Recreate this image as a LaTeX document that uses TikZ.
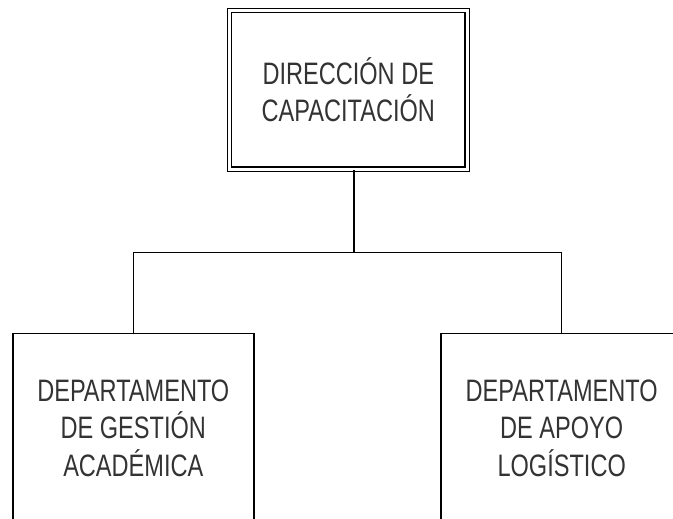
\documentclass[tikz,border=0pt]{standalone}
\usepackage{fontspec}
\setmainfont{Liberation Sans}[FakeStretch=0.76]
\begin{document}
\begin{tikzpicture}[x=1pt,y=1pt,
  box/.style={draw=black, line width=1.5pt, fill=white, align=center,
    inner sep=0pt, minimum width=241pt, text=black!80,
    font=\fontsize{31pt}{37.3pt}\selectfont},
  dbox/.style={box, line width=1.3pt, double=white, double distance=3pt, minimum width=237.7pt, minimum height=158.7pt},
  wire/.style={line width=1.5pt, draw=black}]
\useasboundingbox (0,0) rectangle (673,-519);
\clip (0,0) rectangle (673,-519);
\node[dbox] (top) at (348.3,-89.9) {DIRECCIÓN DE\\CAPACITACIÓN};
\node[box, minimum height=190pt] (left) at (133.3,-428.3) {DEPARTAMENTO\\DE GESTIÓN\\ACADÉMICA};
\node[box, minimum height=190pt] (right) at (561.7,-428.3) {DEPARTAMENTO\\DE APOYO\\LOGÍSTICO};
\coordinate (j) at (354,-252.3);
\draw[wire] (j |- top.south) -- (j);
\draw[wire] (left.north) |- (j) -| (right.north);
\end{tikzpicture}
\end{document}
